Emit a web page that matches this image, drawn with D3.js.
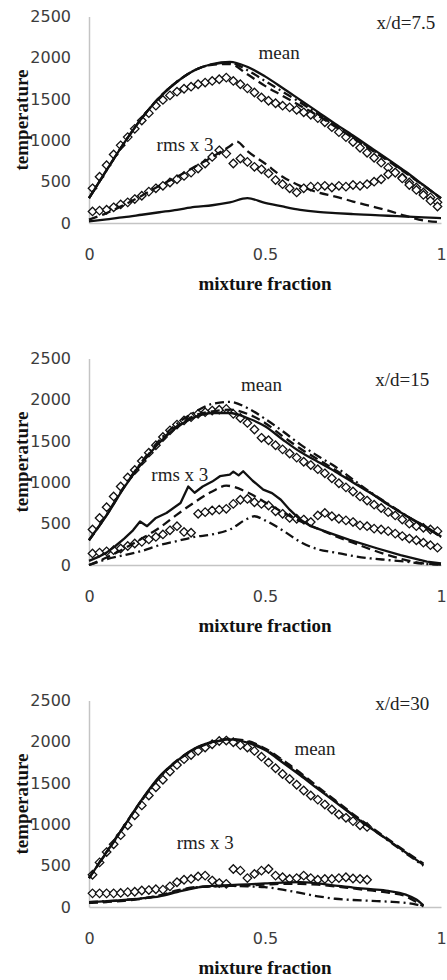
<!DOCTYPE html>
<html>
<head>
<meta charset="utf-8">
<script src="https://cdn.jsdelivr.net/npm/d3@7"></script>
<style>
  html, body { margin: 0; padding: 0; background: #fff; }
  svg { display: block; }
</style>
</head>
<body>
<svg id="chart" width="447" height="980"></svg>
<script>
// ---- shared axes ----
const yTicks = [0, 500, 1000, 1500, 2000, 2500];
const xTicks = [0, 0.5, 1];
const xTickLabels = ["0", "0.5", "1"];

// model line grid (mixture fraction)
const zGrid = [0, 0.05, 0.1, 0.15, 0.2, 0.25, 0.3, 0.35, 0.4, 0.45, 0.5,
               0.55, 0.6, 0.65, 0.7, 0.75, 0.8, 0.85, 0.9, 0.95, 1.0];
// measurement positions (mixture fraction)
const zExp = [0.01, 0.03, 0.05, 0.07, 0.09, 0.11, 0.13, 0.15, 0.17, 0.19,
              0.21, 0.23, 0.25, 0.27, 0.29, 0.31, 0.33, 0.35, 0.37, 0.39,
              0.41, 0.43, 0.45, 0.47, 0.49, 0.51, 0.53, 0.55, 0.57, 0.59,
              0.61, 0.63, 0.65, 0.67, 0.69, 0.71, 0.73, 0.75, 0.77, 0.79,
              0.81, 0.83, 0.85, 0.87, 0.89, 0.91, 0.93, 0.95, 0.97, 0.99];

// ---- x/d = 7.5 ----
const mean75Solid   = [300, 640, 970, 1270, 1520, 1710, 1850, 1925, 1950, 1890, 1775, 1635, 1490, 1345, 1200, 1060, 915, 770, 620, 460, 300];
const mean75Dash    = [300, 640, 970, 1270, 1520, 1710, 1850, 1915, 1925, 1800, 1660, 1540, 1420, 1300, 1165, 1030, 890, 750, 605, 455, 300];
const mean75DashDot = [300, 640, 970, 1270, 1520, 1710, 1850, 1920, 1940, 1850, 1720, 1590, 1460, 1320, 1180, 1045, 900, 760, 610, 455, 300];
const rms75Solid    = [20, 45, 70, 100, 130, 160, 195, 215, 250, 300, 245, 200, 160, 135, 120, 108, 98, 88, 78, 68, 60];
const rms75DashZ    = [0, 0.05, 0.1, 0.15, 0.2, 0.25, 0.3, 0.35, 0.4, 0.42, 0.45, 0.5, 0.55, 0.6, 0.65, 0.7, 0.75, 0.8, 0.85, 0.9, 0.95, 1.0];
const rms75Dash     = [40, 120, 220, 330, 450, 560, 680, 800, 930, 985, 870, 720, 560, 450, 370, 320, 260, 205, 150, 85, 30, 10];
const mean75Exp = [420, 560, 700, 830, 940, 1040, 1140, 1240, 1330, 1420,
                   1490, 1545, 1590, 1625, 1650, 1680, 1700, 1720, 1740, 1760,
                   1720, 1680, 1630, 1580, 1520, 1480, 1450, 1420, 1400, 1370,
                   1340, 1310, 1270, 1220, 1160, 1100, 1040, 980, 910, 850,
                   790, 730, 670, 610, 550, 490, 430, 370, 310, 250];
const rms75Exp  = [140, 150, 160, 190, 225, 250, 290, 330, 380, 420,
                   450, 490, 530, 570, 610, 660, 720, 800, 880, 840,
                   720, 780, 740, 680, 650, 600, 520, 470, 420, 370,
                   420, 440, 440, 450, 430, 450, 440, 460, 450, 470,
                   500, 530, 590, 610, 540, 460, 400, 340, 270, 200];

// ---- x/d = 15 ----
const mean15Solid   = [300, 600, 940, 1230, 1480, 1670, 1790, 1840, 1840, 1780, 1680, 1520, 1370, 1250, 1130, 1000, 870, 730, 600, 480, 344];
const mean15Dash    = [300, 605, 945, 1240, 1490, 1680, 1810, 1860, 1880, 1830, 1720, 1560, 1410, 1280, 1150, 1010, 875, 735, 600, 475, 340];
const mean15DashDot = [300, 610, 950, 1250, 1510, 1710, 1850, 1950, 1975, 1900, 1770, 1620, 1460, 1320, 1190, 1035, 880, 740, 600, 470, 340];
const rms15SolidZ   = [0, 0.025, 0.05, 0.075, 0.1, 0.125, 0.145, 0.165, 0.19, 0.22, 0.26, 0.282, 0.3, 0.323, 0.35, 0.372, 0.4, 0.41, 0.425, 0.438, 0.465, 0.495, 0.52, 0.545, 0.57, 0.6, 0.63, 0.685, 0.74, 0.82, 0.885, 0.96, 1.0];
const rms15Solid    = [50, 95, 150, 230, 320, 420, 527, 470, 570, 630, 750, 950, 875, 950, 1010, 1075, 1095, 1130, 1085, 1135, 1020, 912, 870, 790, 670, 550, 470, 385, 305, 200, 120, 40, 20];
const rms15DashZ    = [0, 0.05, 0.1, 0.15, 0.2, 0.25, 0.3, 0.35, 0.39, 0.45, 0.5, 0.55, 0.6, 0.65, 0.7, 0.75, 0.8, 0.85, 0.9, 0.95, 1.0];
const rms15Dash     = [0, 90, 200, 320, 450, 610, 760, 890, 960, 880, 760, 640, 530, 440, 350, 270, 190, 120, 60, 20, 5];
const rms15DashDotZ = [0, 0.05, 0.1, 0.15, 0.2, 0.25, 0.3, 0.35, 0.4, 0.45, 0.47, 0.5, 0.55, 0.6, 0.65, 0.7, 0.75, 0.8, 0.85, 0.9, 0.95, 1.0];
const rms15DashDot  = [0, 70, 120, 170, 240, 290, 340, 370, 430, 560, 590, 540, 420, 280, 190, 150, 110, 80, 60, 40, 15, 5];
const mean15Exp = [430, 570, 700, 830, 950, 1060, 1150, 1260, 1360, 1450,
                   1550, 1630, 1700, 1750, 1790, 1830, 1850, 1870, 1880, 1890,
                   1830, 1780, 1720, 1640, 1540, 1510, 1450, 1400, 1350, 1300,
                   1250, 1210, 1160, 1110, 1050, 990, 940, 890, 830, 780,
                   730, 690, 640, 600, 550, 500, 470, 450, 430, 410];
const rms15Exp  = [140, 150, 165, 180, 200, 230, 260, 280, 310, 340,
                   370, 420, 470, 400, 390, 620, 640, 660, 670, 680,
                   740, 790, 800, 760, 740, 720, 650, 620, 570, 560,
                   550, 520, 600, 630, 590, 560, 540, 520, 480, 470,
                   440, 430, 410, 380, 350, 320, 300, 270, 240, 210];

// ---- x/d = 30 ----
const zGrid30 = [0, 0.05, 0.1, 0.15, 0.2, 0.25, 0.3, 0.35, 0.4, 0.45,
                 0.5, 0.55, 0.6, 0.65, 0.7, 0.75, 0.8, 0.85, 0.9, 0.95];
const mean30Solid   = [350, 665, 980, 1300, 1580, 1770, 1920, 1995, 2030, 1990, 1900, 1750, 1595, 1430, 1270, 1110, 955, 810, 660, 510];
const mean30Dash    = [350, 670, 985, 1295, 1570, 1775, 1915, 2000, 2035, 2010, 1920, 1780, 1625, 1455, 1290, 1125, 970, 820, 670, 525];
const mean30DashDot = [350, 660, 975, 1290, 1565, 1765, 1910, 1990, 2025, 2000, 1910, 1770, 1610, 1440, 1280, 1115, 960, 805, 650, 500];
const rms30Z        = [0, 0.05, 0.1, 0.15, 0.2, 0.25, 0.3, 0.35, 0.4, 0.45, 0.5, 0.55, 0.6, 0.65, 0.7, 0.75, 0.8, 0.85, 0.9, 0.93, 0.95];
const rms30Solid    = [60, 70, 85, 105, 130, 180, 230, 255, 265, 275, 285, 295, 300, 285, 260, 235, 215, 195, 150, 90, 20];
const rms30Dash     = [50, 60, 75, 100, 140, 200, 240, 250, 255, 260, 270, 280, 280, 270, 250, 225, 200, 175, 130, 60, 10];
const rms30DashDot  = [60, 70, 85, 105, 135, 190, 235, 250, 255, 250, 240, 210, 170, 130, 100, 85, 75, 65, 50, 30, 10];
const mean30Exp = [390, 540, 665, 760, 870, 990, 1110, 1230, 1350, 1450,
                   1540, 1640, 1720, 1790, 1840, 1890, 1930, 1970, 2010, 2015,
                   1995, 1960, 1930, 1890, 1820, 1750, 1680, 1610, 1550, 1480,
                   1410, 1350, 1300, 1240, 1180, 1120, 1080, 1040, 990, 970];
const rms30Exp  = [165, 165, 165, 165, 170, 180, 185, 200, 205, 215,
                   210, 250, 300, 330, 340, 370, 380, 320, 290, 280,
                   460, 440, 350, 400, 440, 460, 380, 360, 340, 350,
                   380, 350, 330, 340, 340, 350, 360, 345, 340, 330];

// ---- panel definitions ----
const panels = [
  {
    baseY: 223, station: "x/d=7.5",
    meanLabel: [0.54, 2070], rmsLabel: [0.273, 955], stationLabel: [0.9, 2430],
    lines: [
      {z: zGrid, v: mean75Solid, dash: null},
      {z: zGrid, v: mean75Dash, dash: "9,5"},
      {z: zGrid, v: mean75DashDot, dash: "9,4,2,4"},
      {z: zGrid, v: rms75Solid, dash: null},
      {z: rms75DashZ, v: rms75Dash, dash: "9,5"}
    ],
    exp: [{z: zExp, v: mean75Exp}, {z: zExp, v: rms75Exp}]
  },
  {
    baseY: 565, station: "x/d=15",
    meanLabel: [0.49, 2190], rmsLabel: [0.258, 1095], stationLabel: [0.89, 2250],
    lines: [
      {z: zGrid, v: mean15Solid, dash: null},
      {z: zGrid, v: mean15Dash, dash: "9,5"},
      {z: zGrid, v: mean15DashDot, dash: "9,4,2,4"},
      {z: rms15SolidZ, v: rms15Solid, dash: null, linear: true},
      {z: rms15DashZ, v: rms15Dash, dash: "9,5"},
      {z: rms15DashDotZ, v: rms15DashDot, dash: "9,4,2,4"}
    ],
    exp: [{z: zExp, v: mean15Exp}, {z: zExp, v: rms15Exp}]
  },
  {
    baseY: 907, station: "x/d=30",
    meanLabel: [0.642, 1920], rmsLabel: [0.33, 785], stationLabel: [0.89, 2465],
    lines: [
      {z: zGrid30, v: mean30Solid, dash: null},
      {z: zGrid30, v: mean30Dash, dash: "9,5"},
      {z: zGrid30, v: mean30DashDot, dash: "9,4,2,4"},
      {z: rms30Z, v: rms30Solid, dash: null},
      {z: rms30Z, v: rms30Dash, dash: "9,5"},
      {z: rms30Z, v: rms30DashDot, dash: "9,4,2,4"}
    ],
    exp: [{z: zExp.slice(0, 40), v: mean30Exp}, {z: zExp.slice(0, 40), v: rms30Exp}]
  }
];

const svg = d3.select("#chart");
const plotLeft = 89, plotRight = 441, plotHeight = 206.5;
const serif = "'Liberation Serif', 'Times New Roman', serif";
const sans = "'DejaVu Sans', sans-serif";

// open diamond marker
const diamond = {
  draw(ctx, size) {
    const r = Math.sqrt(size / 2);
    ctx.moveTo(0, -r); ctx.lineTo(r, 0); ctx.lineTo(0, r); ctx.lineTo(-r, 0); ctx.closePath();
  }
};
const symbolPath = d3.symbol().type(diamond).size(36)();

panels.forEach(p => {
  const x = d3.scaleLinear().domain([0, 1]).range([plotLeft, plotRight]);
  const y = d3.scaleLinear().domain([0, 2500]).range([p.baseY, p.baseY - plotHeight]);
  const g = svg.append("g");

  // y axis
  const yAxis = g.append("g")
    .attr("transform", `translate(${plotLeft},0)`)
    .call(d3.axisLeft(y).tickValues(yTicks).tickSize(0).tickPadding(18).tickFormat(d3.format("d")));
  yAxis.select(".domain").attr("stroke", "#c4c4c4").attr("stroke-width", 1.5);
  yAxis.selectAll("text").attr("font-family", sans).attr("font-size", 16).attr("fill", "#3c3c3c");

  // x axis
  const xAxis = g.append("g")
    .attr("transform", `translate(0,${p.baseY})`)
    .call(d3.axisBottom(x).tickValues(xTicks).tickSize(0).tickPadding(26)
      .tickFormat((d, i) => xTickLabels[i]));
  xAxis.select(".domain").attr("stroke", "#c4c4c4").attr("stroke-width", 1.5);
  xAxis.selectAll("text").attr("font-family", sans).attr("font-size", 16).attr("fill", "#3c3c3c");

  // axis titles
  g.append("text")
    .attr("x", 265).attr("y", p.baseY + 60)
    .attr("text-anchor", "middle").attr("dominant-baseline", "central")
    .attr("font-family", serif).attr("font-weight", "bold").attr("font-size", 19)
    .attr("fill", "#111")
    .text("mixture fraction");
  g.append("text")
    .attr("transform", `translate(21,${p.baseY - 103}) rotate(-90)`)
    .attr("text-anchor", "middle").attr("dominant-baseline", "central")
    .attr("font-family", serif).attr("font-weight", "bold").attr("font-size", 19)
    .attr("fill", "#111")
    .text("temperature");

  // measured points
  p.exp.forEach(s => {
    g.append("g").selectAll("path")
      .data(s.v.map((v, i) => [s.z[i], v]))
      .join("path")
      .attr("d", symbolPath)
      .attr("transform", d => `translate(${x(d[0])},${y(d[1])})`)
      .attr("fill", "#fff").attr("stroke", "#111").attr("stroke-width", 1.3);
  });

  // model curves
  p.lines.forEach(s => {
    const line = d3.line()
      .x(d => x(d[0])).y(d => y(d[1]))
      .curve(s.linear ? d3.curveLinear : d3.curveMonotoneX);
    g.append("path")
      .datum(s.v.map((v, i) => [s.z[i], v]))
      .attr("d", line)
      .attr("fill", "none").attr("stroke", "#111").attr("stroke-width", 2.3)
      .attr("stroke-linejoin", "round")
      .attr("stroke-dasharray", s.dash);
  });

  // annotations
  const note = (pos, txt) => g.append("text")
    .attr("x", x(pos[0])).attr("y", y(pos[1]))
    .attr("text-anchor", "middle").attr("dominant-baseline", "central")
    .attr("font-family", serif).attr("font-size", 19).attr("fill", "#222")
    .text(txt);
  note(p.meanLabel, "mean");
  note(p.rmsLabel, "rms x 3");
  note(p.stationLabel, p.station);
});
</script>
</body>
</html>
